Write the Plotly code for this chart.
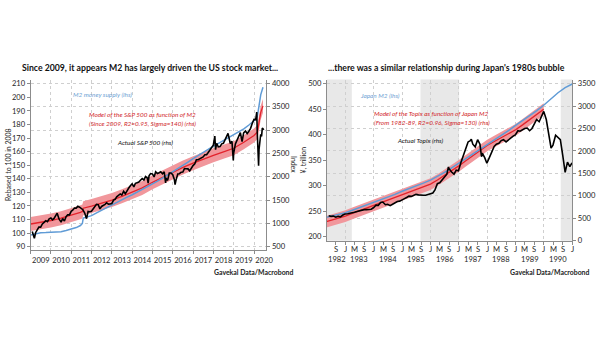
import plotly.graph_objects as go

# ---------------- DATA: US (left panel) ----------------
us_m2_dates = ["2009-01-01", "2009-04-01", "2009-07-01", "2009-10-01", "2010-01-01", "2010-04-01",
               "2010-07-01", "2010-10-01", "2011-01-01", "2011-04-01", "2011-06-15", "2011-07-20",
               "2011-08-05", "2011-10-01", "2012-01-01", "2012-04-01", "2012-07-01", "2012-10-01",
               "2013-01-01", "2013-04-01", "2013-07-01", "2013-10-01", "2014-01-01", "2014-04-01",
               "2014-07-01", "2014-10-01", "2015-01-01", "2015-04-01", "2015-07-01", "2015-10-01",
               "2016-01-01", "2016-04-01", "2016-07-01", "2016-10-01", "2017-01-01", "2017-04-01",
               "2017-07-01", "2017-10-01", "2018-01-01", "2018-04-01", "2018-07-01", "2018-10-01",
               "2019-01-01", "2019-04-01", "2019-07-01", "2019-10-01", "2020-01-01", "2020-02-01",
               "2020-03-01", "2020-04-01", "2020-05-01", "2020-06-10"]
us_m2 = [98.5, 99.5, 100.2, 100.3, 100.4, 100.6, 101.0, 101.8, 102.8, 104.0, 105.5, 107.0,
         111.0, 111.8, 112.8, 114.8, 116.8, 119.0, 121.0, 122.8, 124.6, 126.4, 128.2, 130.1,
         132.0, 134.0, 136.0, 138.2, 140.4, 142.7, 145.0, 147.4, 149.8, 152.3, 154.8, 157.2,
         159.5, 161.8, 164.0, 166.1, 168.2, 170.2, 172.2, 174.4, 176.8, 179.6, 182.5, 183.8,
         186.0, 195.0, 202.0, 207.5]

us_model_dates = ["2009-01-01", "2009-07-01", "2010-01-01", "2010-07-01", "2011-01-01", "2011-06-15",
                  "2011-07-20", "2011-08-05", "2012-01-01", "2012-07-01", "2013-01-01", "2013-07-01",
                  "2014-01-01", "2014-07-01", "2015-01-01", "2015-07-01", "2016-01-01", "2016-07-01",
                  "2017-01-01", "2017-07-01", "2018-01-01", "2018-07-01", "2019-01-01", "2019-07-01",
                  "2020-01-01", "2020-03-01", "2020-04-01", "2020-05-01", "2020-06-10"]
us_model = [985, 1020, 1060, 1110, 1170, 1235, 1255, 1325, 1370, 1430, 1500, 1580,
            1665, 1760, 1880, 1990, 2090, 2200, 2290, 2380, 2460, 2535, 2610, 2740,
            2885, 2960, 3180, 3380, 3520]
us_band = 150  # half-width of the shaded model band (index points)

sp_dates = ["2009-01-30", "2009-02-27", "2009-03-09", "2009-03-31", "2009-04-30", "2009-05-29",
            "2009-06-30", "2009-07-31", "2009-08-31", "2009-09-30", "2009-10-30", "2009-11-30",
            "2009-12-31", "2010-01-29", "2010-02-26", "2010-03-31", "2010-04-23", "2010-04-30",
            "2010-05-28", "2010-06-30", "2010-07-02", "2010-07-30", "2010-08-31", "2010-09-30",
            "2010-10-29", "2010-11-30", "2010-12-31", "2011-01-31", "2011-02-28", "2011-03-31",
            "2011-04-29", "2011-05-31", "2011-06-30", "2011-07-29", "2011-08-31", "2011-09-30",
            "2011-10-03", "2011-10-31", "2011-11-30", "2011-12-30", "2012-01-31", "2012-02-29",
            "2012-03-30", "2012-04-30", "2012-05-31", "2012-06-29", "2012-07-31", "2012-08-31",
            "2012-09-28", "2012-10-31", "2012-11-30", "2012-12-31", "2013-01-31", "2013-02-28",
            "2013-03-28", "2013-04-30", "2013-05-31", "2013-06-28", "2013-07-31", "2013-08-30",
            "2013-09-30", "2013-10-31", "2013-11-29", "2013-12-31", "2014-01-31", "2014-02-28",
            "2014-03-31", "2014-04-30", "2014-05-30", "2014-06-30", "2014-07-31", "2014-08-29",
            "2014-09-30", "2014-10-15", "2014-10-31", "2014-11-28", "2014-12-31", "2015-01-30",
            "2015-02-27", "2015-03-31", "2015-04-30", "2015-05-29", "2015-06-30", "2015-07-31",
            "2015-08-25", "2015-08-31", "2015-09-30", "2015-10-30", "2015-11-30", "2015-12-31",
            "2016-01-29", "2016-02-11", "2016-02-29", "2016-03-31", "2016-04-29", "2016-05-31",
            "2016-06-30", "2016-07-29", "2016-08-31", "2016-09-30", "2016-10-31", "2016-11-30",
            "2016-12-30", "2017-01-31", "2017-02-28", "2017-03-31", "2017-04-28", "2017-05-31",
            "2017-06-30", "2017-07-31", "2017-08-31", "2017-09-29", "2017-10-31", "2017-11-30",
            "2017-12-29", "2018-01-26", "2018-02-08", "2018-02-28", "2018-03-29", "2018-04-30",
            "2018-05-31", "2018-06-29", "2018-07-31", "2018-08-31", "2018-09-20", "2018-10-31",
            "2018-11-30", "2018-12-24", "2018-12-31", "2019-01-31", "2019-02-28", "2019-03-29",
            "2019-04-30", "2019-05-31", "2019-06-28", "2019-07-31", "2019-08-30", "2019-09-30",
            "2019-10-31", "2019-11-29", "2019-12-31", "2020-01-31", "2020-02-19", "2020-02-28",
            "2020-03-09", "2020-03-16", "2020-03-23", "2020-03-31", "2020-04-15", "2020-04-30",
            "2020-05-15", "2020-05-29", "2020-06-26"]
sp500 = [826, 735, 677, 798, 873, 919,
         919, 987, 1021, 1057, 1036, 1096,
         1115, 1074, 1104, 1169, 1217, 1187,
         1089, 1031, 1022, 1102, 1049, 1141,
         1183, 1181, 1258, 1286, 1327, 1326,
         1364, 1345, 1321, 1292, 1219, 1131,
         1099, 1253, 1247, 1258, 1312, 1366,
         1408, 1398, 1310, 1362, 1379, 1407,
         1441, 1412, 1416, 1426, 1498, 1515,
         1569, 1598, 1631, 1606, 1686, 1633,
         1682, 1757, 1806, 1848, 1783, 1859,
         1872, 1884, 1924, 1960, 1931, 2003,
         1972, 1862, 2018, 2068, 2059, 1995,
         2105, 2068, 2086, 2107, 2063, 2104,
         1867, 1972, 1920, 2079, 2080, 2044,
         1940, 1829, 1932, 2060, 2065, 2097,
         2099, 2174, 2171, 2168, 2126, 2199,
         2239, 2279, 2364, 2363, 2384, 2412,
         2423, 2470, 2472, 2519, 2575, 2648,
         2674, 2873, 2581, 2714, 2641, 2648,
         2705, 2718, 2816, 2902, 2931, 2712,
         2760, 2351, 2507, 2704, 2784, 2834,
         2946, 2752, 2942, 2980, 2926, 2977,
         3038, 3141, 3231, 3226, 3386, 2954,
         2747, 2386, 2237, 2585, 2784, 2912,
         2864, 3044, 3009]

# ---------------- DATA: Japan (right panel) ----------------
jp_m2_dates = ["1982-05-01", "1982-07-01", "1982-10-01", "1983-01-01", "1983-04-01", "1983-07-01",
               "1983-10-01", "1984-01-01", "1984-04-01", "1984-07-01", "1984-10-01", "1985-01-01",
               "1985-04-01", "1985-07-01", "1985-10-01", "1986-01-01", "1986-04-01", "1986-07-01",
               "1986-10-01", "1987-01-01", "1987-04-01", "1987-07-01", "1987-10-01", "1988-01-01",
               "1988-04-01", "1988-07-01", "1988-10-01", "1989-01-01", "1989-04-01", "1989-07-01",
               "1989-10-01", "1990-01-01", "1990-04-01", "1990-07-01", "1990-10-01", "1991-01-01"]
jp_m2 = [238, 240, 243, 247, 252, 257, 262, 268, 273, 278, 283, 289,
         294, 299, 305, 311, 318, 326, 335, 344, 353, 362, 371, 381,
         390, 399, 408, 418, 427, 437, 447, 458, 470, 482, 492, 499]

jp_model_dates = ["1982-05-01", "1982-07-01", "1982-10-01", "1983-01-01", "1983-04-01", "1983-07-01",
                  "1983-10-01", "1984-01-01", "1984-04-01", "1984-07-01", "1984-10-01", "1985-01-01",
                  "1985-04-01", "1985-07-01", "1985-10-01", "1986-01-01", "1986-04-01", "1986-07-01",
                  "1986-10-01", "1987-01-01", "1987-04-01", "1987-07-01", "1987-10-01", "1988-01-01",
                  "1988-04-01", "1988-07-01", "1988-10-01", "1989-01-01", "1989-04-01", "1989-07-01",
                  "1989-10-01", "1989-12-29"]
jp_model = [420, 450, 500, 545, 605, 665, 725, 785, 845, 900, 960, 1025,
            1080, 1135, 1195, 1260, 1350, 1450, 1555, 1665, 1780, 1895, 2005, 2120,
            2210, 2300, 2385, 2470, 2580, 2700, 2815, 2930]
jp_band = 130

topix_dates = ["1982-05-31", "1982-06-30", "1982-07-30", "1982-08-31", "1982-09-30", "1982-10-29",
               "1982-11-30", "1982-12-28", "1983-01-31", "1983-02-28", "1983-03-31", "1983-04-28",
               "1983-05-31", "1983-06-30", "1983-07-29", "1983-08-31", "1983-09-30", "1983-10-31",
               "1983-11-30", "1983-12-28", "1984-01-31", "1984-02-29", "1984-03-30", "1984-04-27",
               "1984-05-31", "1984-06-29", "1984-07-31", "1984-08-31", "1984-09-28", "1984-10-31",
               "1984-11-30", "1984-12-28", "1985-01-31", "1985-02-28", "1985-03-29", "1985-04-30",
               "1985-05-31", "1985-06-28", "1985-07-31", "1985-08-30", "1985-09-30", "1985-10-31",
               "1985-11-29", "1985-12-28", "1986-01-31", "1986-02-28", "1986-03-31", "1986-04-30",
               "1986-05-30", "1986-06-30", "1986-07-31", "1986-08-20", "1986-08-29", "1986-09-30",
               "1986-10-31", "1986-11-28", "1986-12-27", "1987-01-30", "1987-02-27", "1987-03-31",
               "1987-04-30", "1987-05-29", "1987-06-11", "1987-06-30", "1987-07-31", "1987-08-31",
               "1987-09-30", "1987-10-20", "1987-10-30", "1987-11-30", "1987-12-28", "1988-01-29",
               "1988-02-29", "1988-03-31", "1988-04-28", "1988-05-31", "1988-06-30", "1988-07-29",
               "1988-08-31", "1988-09-30", "1988-10-31", "1988-11-30", "1988-12-28", "1989-01-31",
               "1989-02-28", "1989-03-31", "1989-04-28", "1989-05-31", "1989-06-30", "1989-07-31",
               "1989-08-31", "1989-09-29", "1989-10-31", "1989-11-30", "1989-12-29", "1990-01-31",
               "1990-02-28", "1990-03-30", "1990-04-02", "1990-04-27", "1990-05-31", "1990-06-29",
               "1990-07-31", "1990-08-31", "1990-09-28", "1990-10-01", "1990-10-31", "1990-11-30",
               "1990-12-28"]
topix = [555, 540, 545, 520, 540, 530,
         570, 593, 600, 605, 612, 630,
         650, 665, 675, 690, 690, 700,
         700, 731, 790, 785, 850, 860,
         800, 810, 780, 810, 840, 870,
         880, 913, 935, 960, 990, 985,
         1010, 1030, 1020, 1010, 1010, 1010,
         1030, 1049, 1060, 1130, 1270, 1290,
         1350, 1420, 1480, 1640, 1600, 1530,
         1480, 1570, 1556, 1750, 1900, 2050,
         2200, 2230, 2258, 2150, 2090, 2250,
         2150, 1870, 1950, 1850, 1725, 1850,
         2000, 2100, 2150, 2170, 2230, 2250,
         2200, 2250, 2300, 2330, 2357, 2450,
         2440, 2470, 2500, 2510, 2450, 2500,
         2600, 2700, 2650, 2750, 2881, 2700,
         2450, 2100, 2060, 2130, 2350, 2300,
         2250, 1900, 1580, 1523, 1750, 1650,
         1733]

jp_shade_start = ["1982-05-01", "1985-08-25", "1990-08-05"]
jp_shade_end = ["1983-03-25", "1987-01-05", "1991-01-01"]

jp_month_letters = {1: "J", 5: "M", 9: "S"}
jp_years = [1982, 1983, 1984, 1985, 1986, 1987, 1988, 1989, 1990]
jp_year_label_dates = ["1982-09-15", "1983-07-02", "1984-07-02", "1985-07-02", "1986-07-02",
                       "1987-07-02", "1988-07-02", "1989-07-02", "1990-07-02"]

# ---------------- STYLE ----------------
W, H = 605, 341
FONT = "Lato, Liberation Sans, Arial, sans-serif"
BLUE = "#5f9bd6"
BLUE_TXT = "#6f9fd3"
RED = "#e3232c"
RED_TXT = "#d11f2b"
BAND = "#f1979c"
AX = "#8c8c8c"
GRID = "#cfcfcf"
TICKC = "#262626"
TICK_SIZE = 7.6
NOTE_SIZE = 6.4


def px(x):
    return x / W


def py(y):
    return 1 - y / H


def lower(vals, w):
    return [v - w for v in vals]


def upper(vals, w):
    return [v + w for v in vals]


fig = go.Figure()

# ---- Left panel ----
fig.add_trace(go.Scatter(x=us_model_dates, y=upper(us_model, us_band), mode="lines",
                         line=dict(width=0, color=BAND), xaxis="x", yaxis="y",
                         hoverinfo="skip", showlegend=False))
fig.add_trace(go.Scatter(x=us_model_dates, y=lower(us_model, us_band), mode="lines",
                         line=dict(width=0, color=BAND), fill="tonexty", fillcolor=BAND,
                         xaxis="x", yaxis="y", showlegend=False))
fig.add_trace(go.Scatter(x=us_model_dates, y=us_model, mode="lines",
                         line=dict(width=1.3, color=RED), xaxis="x", yaxis="y", showlegend=False))
fig.add_trace(go.Scatter(x=us_m2_dates, y=us_m2, mode="lines",
                         line=dict(width=1.5, color=BLUE), xaxis="x", yaxis="y2", showlegend=False))
fig.add_trace(go.Scatter(x=sp_dates, y=sp500, mode="lines",
                         line=dict(width=1.6, color="black"), xaxis="x", yaxis="y3", showlegend=False))

# ---- Right panel ----
fig.add_trace(go.Scatter(x=jp_model_dates, y=upper(jp_model, jp_band), mode="lines",
                         line=dict(width=0, color=BAND), xaxis="x2", yaxis="y4",
                         hoverinfo="skip", showlegend=False))
fig.add_trace(go.Scatter(x=jp_model_dates, y=lower(jp_model, jp_band), mode="lines",
                         line=dict(width=0, color=BAND), fill="tonexty", fillcolor=BAND,
                         xaxis="x2", yaxis="y4", showlegend=False))
fig.add_trace(go.Scatter(x=jp_model_dates, y=jp_model, mode="lines",
                         line=dict(width=1.3, color=RED), xaxis="x2", yaxis="y4", showlegend=False))
fig.add_trace(go.Scatter(x=jp_m2_dates, y=jp_m2, mode="lines",
                         line=dict(width=1.5, color=BLUE), xaxis="x2", yaxis="y5", showlegend=False))
fig.add_trace(go.Scatter(x=topix_dates, y=topix, mode="lines",
                         line=dict(width=1.6, color="black"), xaxis="x2", yaxis="y6", showlegend=False))

tickfont = dict(family=FONT, size=TICK_SIZE, color=TICKC)
L_DOM_X = [px(31), px(269.5)]
L_DOM_Y = [py(253), py(80)]
R_DOM_X = [px(330.7), px(579)]
R_DOM_Y = [py(244), py(80)]

us_rhs_range = [437, 4084]
jp_rhs_range = [-3, 3590]

# month ticks for right panel
jan_ticks, mid_ticks, letter_ticks = [], [], []
for yr in range(1982, 1992):
    for m in (1, 5, 9):
        d = f"{yr}-{m:02d}-01"
        if "1982-09-01" <= d <= "1991-01-01":
            letter_ticks.append((d, jp_month_letters[m]))
            (jan_ticks if m == 1 else mid_ticks).append(d)

fig.update_layout(
    width=W, height=H, autosize=False,
    margin=dict(l=0, r=0, t=0, b=0),
    paper_bgcolor="white", plot_bgcolor="rgba(0,0,0,0)",
    font=dict(family=FONT, size=TICK_SIZE, color=TICKC),
    showlegend=False,
    xaxis=dict(domain=L_DOM_X, anchor="y", type="date",
               range=["2009-01-01", "2020-08-10"], dtick="M12", tick0="2009-01-01",
               ticklabelmode="period", tickformat="%Y", tickangle=0, ticks="outside", ticklen=3,
               tickcolor=AX, showline=True, linecolor=AX, linewidth=1,
               showgrid=True, gridcolor=GRID, griddash="dot", gridwidth=1,
               tickfont=tickfont, zeroline=False),
    yaxis=dict(domain=L_DOM_Y, anchor="x", side="right", range=us_rhs_range,
               tick0=500, dtick=500, ticks="outside", ticklen=3, tickcolor=AX,
               showline=True, linecolor=AX, showgrid=True, gridcolor=GRID,
               griddash="dot", tickfont=tickfont, zeroline=False),
    yaxis2=dict(overlaying="y", anchor="x", side="left", range=[87.8, 213.1],
                tick0=90, dtick=10, ticks="outside", ticklen=3, tickcolor=AX,
                showline=True, linecolor=AX, showgrid=False, tickfont=tickfont, zeroline=False),
    yaxis3=dict(overlaying="y", anchor="x", side="right", range=us_rhs_range, visible=False),
    xaxis2=dict(domain=R_DOM_X, anchor="y4", type="date",
                range=["1982-05-08", "1991-01-01"], tickmode="array", tickvals=jan_ticks,
                showticklabels=False, ticks="outside", ticklen=3, tickcolor=AX,
                showline=True, linecolor=AX, showgrid=True, gridcolor=GRID, griddash="dot",
                minor=dict(tickmode="array", tickvals=mid_ticks, ticks="outside", ticklen=3,
                           tickcolor=AX, showgrid=False),
                zeroline=False),
    yaxis4=dict(domain=R_DOM_Y, anchor="x2", side="right", range=jp_rhs_range,
                tick0=0, dtick=500, ticks="outside", ticklen=3, tickcolor=AX,
                showline=True, linecolor=AX, showgrid=True, gridcolor=GRID, griddash="dot",
                tickfont=tickfont, zeroline=False),
    yaxis5=dict(overlaying="y4", anchor="x2", side="left", range=[192.3, 507.7],
                tick0=200, dtick=50, ticks="outside", ticklen=3, tickcolor=AX,
                showline=True, linecolor=AX, showgrid=False, tickfont=tickfont, zeroline=False),
    yaxis6=dict(overlaying="y4", anchor="x2", side="right", range=jp_rhs_range, visible=False),
)

# shaded periods (right panel)
for s, e in zip(jp_shade_start, jp_shade_end):
    fig.add_shape(type="rect", xref="x2", yref="y4 domain", x0=s, x1=e, y0=0, y1=1,
                  fillcolor="#e8e8e8", line=dict(width=0), layer="below")

ann = []


def add_text(text, x, y, size, color, xanchor="left", bold=False, italic=False, angle=0):
    t = text
    if bold:
        t = f"<b>{t}</b>"
    if italic:
        t = f"<i>{t}</i>"
    ann.append(dict(text=t, x=px(x), y=py(y), xref="paper", yref="paper",
                    xanchor=xanchor, yanchor="middle", showarrow=False, textangle=angle,
                    font=dict(family=FONT, size=size, color=color)))


# titles
add_text("Since 2009, it appears M2 has largely driven the US stock market...", 151.5, 68, 8.7,
         "#111111", xanchor="center", bold=True)
add_text("...there was a similar relationship during Japan's 1980s bubble", 452, 68, 8.7,
         "#111111", xanchor="center", bold=True)

# left panel labels
add_text("M2 money supply (lhs)", 72, 95, NOTE_SIZE, BLUE_TXT, italic=True)
add_text("Model of the S&P 500 as function of M2", 88.3, 115.7, NOTE_SIZE, RED_TXT, italic=True)
add_text("(Since 2009, R2=0.95, Sigma=140) (rhs)", 88.3, 124.3, NOTE_SIZE, RED_TXT, italic=True)
add_text("Actual S&P 500 (rhs)", 116.7, 144, NOTE_SIZE, "#111111", italic=True)
add_text("Gavekal Data/Macrobond", 298, 276, 6.9, "#222222", xanchor="right", bold=True)
add_text("Rebased to 100 in 2008", 7.5, 166.5, 6.9, TICKC, xanchor="center", angle=-90)
add_text("Index", 297.5, 166, 6.9, TICKC, xanchor="center", angle=90)

# right panel labels
add_text("Japan M2 (lhs)", 361.7, 95.7, NOTE_SIZE, BLUE_TXT, italic=True)
add_text("Model of the Topix as function of Japan M2", 376, 115, NOTE_SIZE, RED_TXT, italic=True)
add_text("(From 1982-89, R2=0.96, Sigma=130) (rhs)", 376, 123.3, NOTE_SIZE, RED_TXT, italic=True)
add_text("Actual Topix (rhs)", 399.3, 141.7, NOTE_SIZE, "#111111", italic=True)
add_text("Gavekal Data/Macrobond", 598, 276, 6.9, "#222222", xanchor="right", bold=True)
add_text("¥, trillion", 307, 162, 6.9, TICKC, xanchor="center", angle=-90)

# month letters and years (right panel x axis)
for d, letter in letter_ticks:
    ann.append(dict(text=letter, x=d, y=py(252), xref="x2", yref="paper", xanchor="center",
                    yanchor="middle", showarrow=False,
                    font=dict(family=FONT, size=TICK_SIZE, color=TICKC)))
for d, yr in zip(jp_year_label_dates, jp_years):
    ann.append(dict(text=str(yr), x=d, y=py(263), xref="x2", yref="paper", xanchor="center",
                    yanchor="middle", showarrow=False,
                    font=dict(family=FONT, size=TICK_SIZE, color=TICKC)))

fig.update_layout(annotations=ann)

fig.write_html("out.html")
